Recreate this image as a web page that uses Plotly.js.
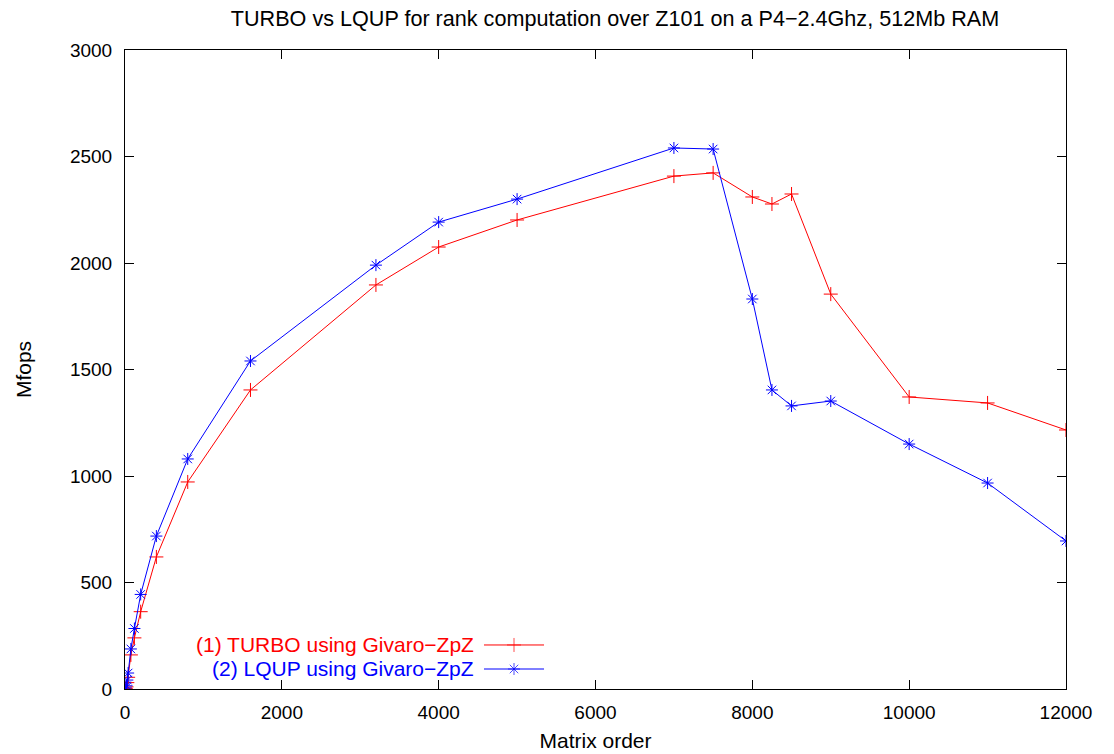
<!DOCTYPE html>
<html>
<head>
<meta charset="utf-8">
<script src="https://cdn.plot.ly/plotly-3.0.1.min.js"></script>
<style>html,body{margin:0;padding:0;background:#fff;}#chart{width:1114px;height:754px;}</style>
</head>
<body>
<div id="chart"></div>
<script>
// Matrix order (x values)
const matrixOrder = [10, 20, 30, 40, 75, 120, 200, 400, 800, 1600, 3200, 4000, 5000, 7000, 7500, 8000, 8250, 8500, 9000, 10000, 11000, 12000];
// Series values (Mfops)
const turbo = [3, 10, 30, 55, 160, 240, 363, 620, 972, 1404, 1897, 2075, 2202, 2408, 2423, 2310, 2277, 2324, 1854, 1371, 1343, 1216];
const lqup  = [5, 15, 42, 75, 188, 284, 444, 718, 1080, 1540, 1990, 2192, 2300, 2540, 2535, 1831, 1404, 1329, 1352, 1150, 967, 695];
const seriesNames = ["(1) TURBO using Givaro\u2212ZpZ", "(2) LQUP using Givaro\u2212ZpZ"];
const seriesColors = ["#ff0000", "#0000ff"];
const xTicks = [0, 2000, 4000, 6000, 8000, 10000, 12000];
const yTicks = [0, 500, 1000, 1500, 2000, 2500, 3000];

const FONT = "Liberation Sans, Arial, Helvetica, sans-serif";
const TXT = 21;
const TICK = 19;
const KEY_Y = [0.0689, 0.0313];

const traces = [
  {x: matrixOrder, y: turbo, name: seriesNames[0], type: "scatter", mode: "lines+markers",
   line: {color: seriesColors[0], width: 1},
   marker: {symbol: "cross-thin-open", size: 10, color: seriesColors[0], line: {width: 1, color: seriesColors[0]}}},
  {x: matrixOrder, y: lqup, name: seriesNames[1], type: "scatter", mode: "lines+markers",
   line: {color: seriesColors[1], width: 1},
   marker: {symbol: "asterisk-open", size: 10, color: seriesColors[1], line: {width: 1, color: seriesColors[1]}}},
  // legend key samples on an overlay 0..1 axis pair
  {x: [0.3815, 0.4134, 0.4453], y: [KEY_Y[0], KEY_Y[0], KEY_Y[0]], xaxis: "x2", yaxis: "y2", mode: "lines+markers",
   line: {color: seriesColors[0], width: 1},
   marker: {symbol: "cross-thin-open", size: [0, 10, 0], color: seriesColors[0], line: {width: 1, color: seriesColors[0]}},
   hoverinfo: "skip", showlegend: false},
  {x: [0.3815, 0.4134, 0.4453], y: [KEY_Y[1], KEY_Y[1], KEY_Y[1]], xaxis: "x2", yaxis: "y2", mode: "lines+markers",
   line: {color: seriesColors[1], width: 1},
   marker: {symbol: "asterisk-open", size: [0, 10, 0], color: seriesColors[1], line: {width: 1, color: seriesColors[1]}},
   hoverinfo: "skip", showlegend: false}
];

const layout = {
  width: 1114, height: 754,
  margin: {l: 125, r: 48, t: 50, b: 65},
  paper_bgcolor: "#fff", plot_bgcolor: "#fff",
  showlegend: false,
  font: {family: FONT, size: TXT, color: "#000"},
  title: {text: "TURBO vs LQUP for rank computation over Z101 on a P4\u22122.4Ghz, 512Mb RAM",
          font: {family: FONT, size: 21.6, color: "#000"}, x: 615/1114, xanchor: "center", xref: "container", y: 1 - 18/754, yanchor: "middle", yref: "container"},
  xaxis: {range: [0, 12000], tickvals: xTicks, ticktext: xTicks.map(String), ticks: "inside", ticklen: 9, tickwidth: 1, tickcolor: "#000",
          showline: true, linecolor: "#000", linewidth: 1, mirror: "allticks", showgrid: false, zeroline: false,
          tickfont: {family: FONT, size: TICK}, ticklabelstandoff: 6,
          title: {text: "Matrix order", font: {family: FONT, size: TXT}, standoff: 11}},
  yaxis: {range: [0, 3000], tickvals: yTicks, ticktext: yTicks.map(String), ticks: "inside", ticklen: 9, tickwidth: 1, tickcolor: "#000",
          showline: true, linecolor: "#000", linewidth: 1, mirror: "allticks", showgrid: false, zeroline: false,
          tickfont: {family: FONT, size: TICK}, ticklabelstandoff: 8,
          title: {text: "Mfops", font: {family: FONT, size: TXT}, standoff: 32}},
  xaxis2: {overlaying: "x", range: [0, 1], visible: false, fixedrange: true},
  yaxis2: {overlaying: "y", range: [0, 1], visible: false, fixedrange: true},
  annotations: [
    {text: seriesNames[0], xref: "paper", yref: "paper", x: 0.372, y: KEY_Y[0], xanchor: "right", yanchor: "middle", showarrow: false,
     font: {family: FONT, size: TXT, color: seriesColors[0]}, borderpad: 0},
    {text: seriesNames[1], xref: "paper", yref: "paper", x: 0.372, y: KEY_Y[1], xanchor: "right", yanchor: "middle", showarrow: false,
     font: {family: FONT, size: TXT, color: seriesColors[1]}, borderpad: 0}
  ]
};

Plotly.newPlot("chart", traces, layout, {displayModeBar: false, staticPlot: true});
</script>
</body>
</html>
